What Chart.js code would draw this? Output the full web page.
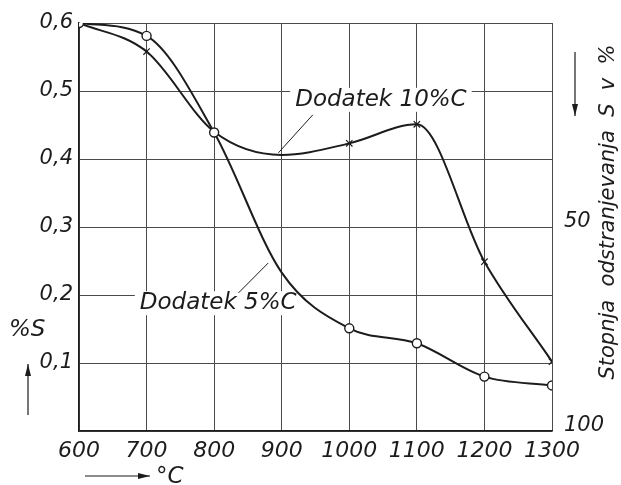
<!DOCTYPE html>
<html>
<head>
<meta charset="utf-8">
<script src="https://cdn.jsdelivr.net/npm/chart.js@4/dist/chart.umd.min.js"></script>
<style>
  html, body { margin: 0; padding: 0; background: #fff; }
  #wrap { width: 621px; height: 485px; }
</style>
</head>
<body>
<div id="wrap"><canvas id="sulfurChart" width="621" height="485"></canvas></div>
<script>
// temperatures (°C)
const temps = [600, 700, 800, 900, 1000, 1100, 1200, 1300];
// %S remaining, 5 % C addition (circles)
const sulfur5 = [0.60, 0.581, 0.439, 0.233, 0.151, 0.129, 0.080, 0.067];
// %S remaining, 10 % C addition (crosses)
const sulfur10 = [0.60, 0.558, 0.440, 0.406, 0.423, 0.451, 0.249, 0.102];
// which points carry a drawn marker
const marked5 = [true, true, true, false, true, true, true, true];
const marked10 = [false, true, true, false, true, true, true, true];
// right-hand scale: degree of S removal in %
const removalTicks = [50, 100];
const label5 = 'Dodatek 5%C';
const label10 = 'Dodatek 10%C';

const FONT = "'DejaVu Sans', sans-serif";
const INK = '#1c1c1c';
const GRID = '#4a4a4a';

const toPoints = ys => temps.map((t, i) => ({ x: t, y: ys[i] }));

// labels for the two curves, with their leader lines (data coordinates)
const curveNotes = [
    { text: label10, x: 920, y: 0.487, from: [946, 0.465], to: [895, 0.409] },
    { text: label5, x: 690, y: 0.188, from: [836, 0.203], to: [880, 0.247] }
];

const notesPlugin = {
    id: 'notes',
    beforeDatasetsDraw(chart) {
        const { ctx, scales: { x, y } } = chart;
        ctx.save();
        ctx.font = 'italic 23px ' + FONT;
        ctx.textBaseline = 'middle';
        curveNotes.forEach(n => {
            const px = x.getPixelForValue(n.x);
            const py = y.getPixelForValue(n.y);
            const w = ctx.measureText(n.text).width;
            ctx.fillStyle = '#fff';
            ctx.fillRect(px - 5, py - 12, w + 10, 24);
            ctx.fillStyle = INK;
            ctx.fillText(n.text, px, py);
            ctx.strokeStyle = INK;
            ctx.lineWidth = 1;
            ctx.beginPath();
            ctx.moveTo(x.getPixelForValue(n.from[0]), y.getPixelForValue(n.from[1]));
            ctx.lineTo(x.getPixelForValue(n.to[0]), y.getPixelForValue(n.to[1]));
            ctx.stroke();
        });
        ctx.restore();
    }
};

const arrow = (ctx, x1, y1, x2, y2) => {
    const a = Math.atan2(y2 - y1, x2 - x1);
    ctx.beginPath();
    ctx.moveTo(x1, y1);
    ctx.lineTo(x2, y2);
    ctx.stroke();
    ctx.beginPath();
    ctx.moveTo(x2, y2);
    ctx.lineTo(x2 - 12 * Math.cos(a) + 3 * Math.sin(a), y2 - 12 * Math.sin(a) - 3 * Math.cos(a));
    ctx.lineTo(x2 - 12 * Math.cos(a) - 3 * Math.sin(a), y2 - 12 * Math.sin(a) + 3 * Math.cos(a));
    ctx.closePath();
    ctx.fill();
};

const axisTitles = {
    id: 'axisTitles',
    afterDraw(chart) {
        const { ctx } = chart;
        ctx.save();
        ctx.fillStyle = INK;
        ctx.strokeStyle = INK;
        ctx.lineWidth = 1.2;
        ctx.font = 'italic 23px ' + FONT;
        ctx.textBaseline = 'middle';
        ctx.textAlign = 'left';
        // left: %S with upward arrow
        ctx.fillText('%S', 9, 330);
        arrow(ctx, 28, 415, 28, 364);
        // bottom: arrow and °C
        arrow(ctx, 85, 476, 150, 476);
        ctx.fillText('°C', 156, 477);
        // right: downward arrow and rotated title, read bottom to top
        arrow(ctx, 575, 52, 575, 116);
        ctx.translate(609, 212);
        ctx.rotate(-Math.PI / 2);
        ctx.textAlign = 'center';
        ctx.font = 'italic 21px ' + FONT;
        ctx.fillText('Stopnja  odstranjevanja  S  v  %', 0, 0);
        ctx.restore();
    }
};

const ctx = document.getElementById('sulfurChart').getContext('2d');
const sulfurChart = new Chart(ctx, {
    type: 'line',
    data: {
        datasets: [
            {
                label: label5,
                data: toPoints(sulfur5),
                borderColor: INK,
                borderWidth: 2,
                cubicInterpolationMode: 'monotone',
                pointStyle: 'circle',
                pointRadius: c => marked5[c.dataIndex] ? 4.5 : 0,
                pointBackgroundColor: '#fff',
                pointBorderColor: INK,
                pointBorderWidth: 1.4,
                yAxisID: 'y'
            },
            {
                label: label10,
                data: toPoints(sulfur10),
                borderColor: INK,
                borderWidth: 2,
                cubicInterpolationMode: 'monotone',
                pointStyle: 'crossRot',
                pointRadius: c => marked10[c.dataIndex] ? 4.5 : 0,
                pointBorderColor: INK,
                pointBorderWidth: 1.2,
                yAxisID: 'y'
            }
        ]
    },
    options: {
        responsive: false,
        animation: false,
        layout: { padding: { top: 23, left: 0, right: 0, bottom: 0 } },
        plugins: {
            legend: { display: false },
            tooltip: { enabled: false }
        },
        scales: {
            x: {
                type: 'linear',
                min: 600,
                max: 1300,
                ticks: {
                    stepSize: 100,
                    padding: 7,
                    color: INK,
                    font: { family: FONT, size: 22, style: 'italic' },
                    maxRotation: 0,
                    callback: v => String(v)
                },
                grid: { color: GRID, lineWidth: 1, drawTicks: false },
                border: { color: INK, width: 1.5 },
                afterFit: s => { s.height = 54; }
            },
            y: {
                min: 0,
                max: 0.6,
                ticks: {
                    stepSize: 0.1,
                    padding: 6,
                    color: INK,
                    font: { family: FONT, size: 21, style: 'italic' },
                    callback: v => v === 0 ? '' : v.toFixed(1).replace('.', ',')
                },
                grid: { color: GRID, lineWidth: 1, drawTicks: false },
                border: { color: INK, width: 1.5 },
                afterFit: s => { s.width = 79; }
            },
            y2: {
                position: 'right',
                min: 0,
                max: 100,
                reverse: true,
                afterBuildTicks: s => { s.ticks = removalTicks.map(v => ({ value: v })); },
                ticks: {
                    padding: 4,
                    labelOffset: -5,
                    color: INK,
                    font: { family: FONT, size: 21, style: 'italic' }
                },
                grid: { display: false },
                border: { display: false },
                afterFit: s => { s.width = 69; }
            }
        }
    },
    plugins: [notesPlugin, axisTitles]
});
</script>
</body>
</html>
